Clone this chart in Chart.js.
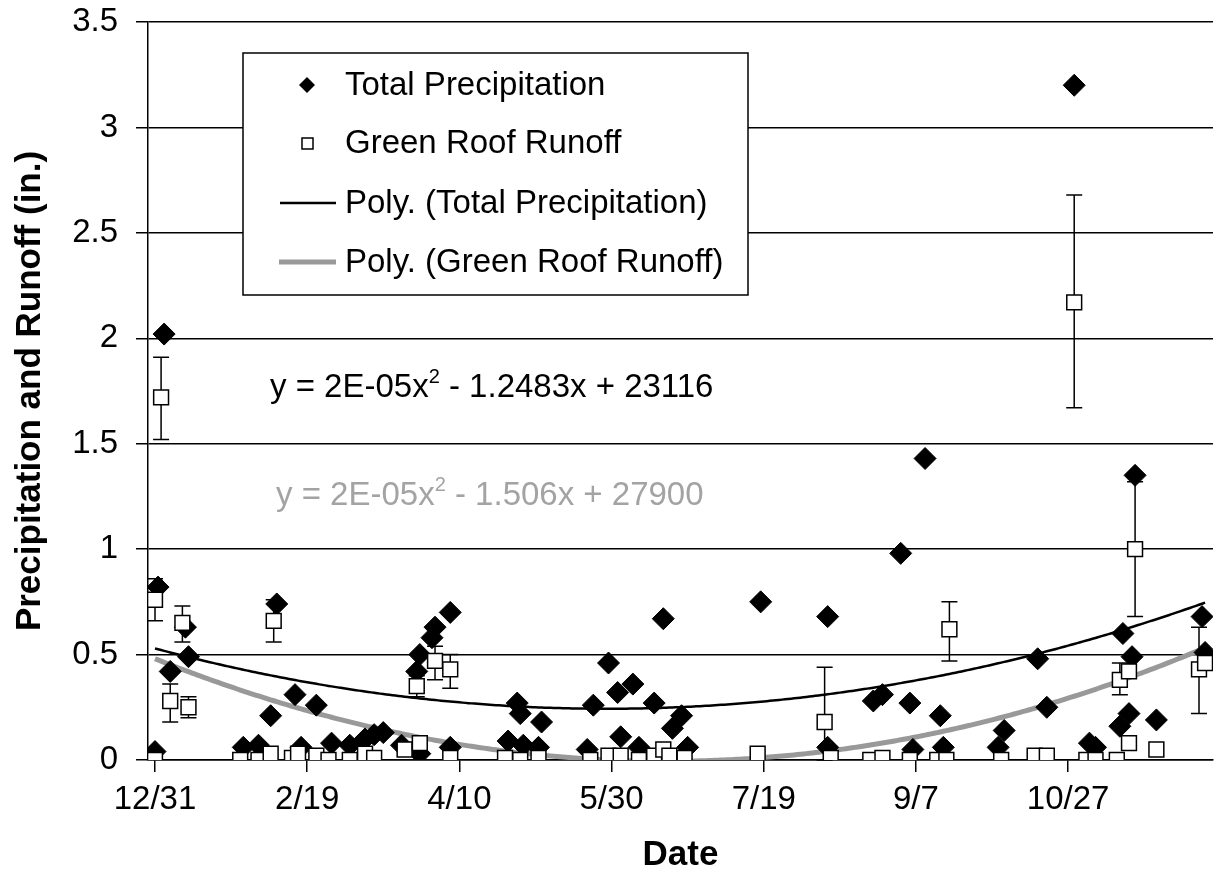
<!DOCTYPE html>
<html>
<head>
<meta charset="utf-8">
<script src="https://cdn.jsdelivr.net/npm/chart.js@4.4.1/dist/chart.umd.min.js"></script>
<style>
html, body { margin: 0; padding: 0; background: #fff; overflow: hidden; }
#wrap { width: 1225px; height: 877px; }
canvas { display: block; }
</style>
</head>
<body>
<div id="wrap"><canvas id="myChart"></canvas></div>
<script>
// days counted from 12/31
const dayTicks = [0, 50, 100, 150, 200, 250, 300];
const valueTicks = [0, 0.5, 1, 1.5, 2, 2.5, 3, 3.5];

const precipDays = [1, 0, 3, 5, 10, 11, 29, 34, 38, 40, 46, 48, 53, 58, 64, 69, 72, 75, 81, 86, 87, 87, 91, 92, 97, 97,
	116, 119, 120, 121, 126, 127, 142, 144, 149, 152, 153, 157, 159, 164, 167, 170, 173, 175, 199, 221, 221,
	236, 239, 245, 248, 249, 253, 258, 259, 277, 279, 290, 293, 302, 307, 309, 317, 318, 320, 321, 322, 329, 344, 345];
const precipValues = [0.82, 0.04, 2.02, 0.42, 0.63, 0.49, 0.06, 0.07, 0.21, 0.74, 0.31, 0.06, 0.26, 0.08, 0.07, 0.10, 0.12, 0.13, 0.07, 0.42, 0.50, 0.03, 0.58, 0.63, 0.70, 0.06,
	0.09, 0.27, 0.22, 0.07, 0.06, 0.18, 0.05, 0.26, 0.46, 0.32, 0.11, 0.36, 0.06, 0.27, 0.67, 0.15, 0.21, 0.06, 0.75, 0.68, 0.06,
	0.28, 0.31, 0.98, 0.27, 0.05, 1.43, 0.21, 0.06, 0.06, 0.14, 0.48, 0.25, 3.20, 0.08, 0.06, 0.16, 0.60, 0.22, 0.49, 1.35, 0.19, 0.68, 0.51];

const runoffDays = [0, 0, 2, 5, 9, 11, 28, 34, 38, 39, 45, 47, 53, 57, 64, 69, 72, 82, 86, 87, 92, 97, 97, 115, 120, 126,
	143, 149, 153, 159, 164, 167, 169, 174, 198, 220, 222, 235, 239, 248, 257, 260, 261, 278, 289, 293, 302,
	306, 309, 316, 317, 320, 320, 322, 329, 343, 345];
const runoffValues = [0.76, 0, 1.72, 0.28, 0.65, 0.25, 0, 0, 0.03, 0.66, 0.01, 0.03, 0.02, 0, 0, 0.03, 0.01, 0.05, 0.35, 0.08, 0.47, 0.43, 0.01, 0.01, 0, 0.01,
	0, 0.02, 0.02, 0, 0.02, 0.05, 0.02, 0.01, 0.03, 0.18, 0.01, 0, 0.01, 0, 0, 0, 0.62, 0, 0.02, 0.02, 2.17,
	0, 0, 0, 0.38, 0.42, 0.08, 1.00, 0.05, 0.43, 0.46];
const runoffLow = [0.66, null, 1.52, 0.18, 0.56, 0.20, null, null, null, 0.56, null, null, null, null, null, null, null, null, 0.30, null, 0.38, 0.34, null, null, null, null,
	null, null, null, null, null, null, null, null, null, 0, null, null, null, null, null, null, 0.47, null, null, null, 1.67,
	null, null, null, 0.31, null, null, 0.68, null, 0.22, null];
const runoffHigh = [0.86, null, 1.91, 0.36, 0.73, 0.30, null, null, null, 0.76, null, null, null, null, null, null, null, null, 0.40, null, 0.54, 0.50, null, null, null, null,
	null, null, null, null, null, null, null, null, null, 0.44, null, null, null, null, null, null, 0.75, null, null, null, 2.68,
	null, null, null, 0.46, null, null, 1.32, null, 0.63, null];

const precipEquation = 'y = 2E-05x|2| - 1.2483x + 23116';
const runoffEquation = 'y = 2E-05x|2| - 1.506x + 27900';

const fontName = '"Liberation Sans", Arial, sans-serif';

function toPoints(xs, ys) {
	return xs.map((x, i) => ({ x: x, y: ys[i] }));
}

// second order least squares fit, like the spreadsheet "Poly." trendline
function polyTrend(xs, ys) {
	let n = 0, sx = 0, sx2 = 0, sx3 = 0, sx4 = 0, sy = 0, sxy = 0, sx2y = 0;
	xs.forEach((x, i) => {
		const y = ys[i];
		n++; sx += x; sx2 += x * x; sx3 += x * x * x; sx4 += x * x * x * x;
		sy += y; sxy += x * y; sx2y += x * x * y;
	});
	const det3 = (m) => m[0][0] * (m[1][1] * m[2][2] - m[1][2] * m[2][1])
		- m[0][1] * (m[1][0] * m[2][2] - m[1][2] * m[2][0])
		+ m[0][2] * (m[1][0] * m[2][1] - m[1][1] * m[2][0]);
	const A = [[n, sx, sx2], [sx, sx2, sx3], [sx2, sx3, sx4]];
	const B = [sy, sxy, sx2y];
	const D = det3(A);
	const coef = [0, 1, 2].map(k => det3(A.map((row, r) => row.map((v, c) => c === k ? B[r] : v))) / D);
	const lo = Math.min(...xs), hi = Math.max(...xs);
	const pts = [];
	for (let x = lo; x <= hi; x += 1) {
		pts.push({ x: x, y: coef[0] + coef[1] * x + coef[2] * x * x });
	}
	return pts;
}

function dayLabel(d) {
	const dt = new Date(2006, 11, 31 + d);
	return (dt.getMonth() + 1) + '/' + dt.getDate();
}

const errorBars = {
	id: 'errorBars',
	beforeDatasetsDraw(chart) {
		const c = chart.ctx, xs = chart.scales.x, ys = chart.scales.y;
		c.save();
		c.strokeStyle = '#000';
		c.lineWidth = 1.5;
		runoffDays.forEach((d, i) => {
			if (runoffLow[i] === null) return;
			const px = xs.getPixelForValue(d);
			const p1 = ys.getPixelForValue(runoffLow[i]);
			const p2 = ys.getPixelForValue(runoffHigh[i]);
			c.beginPath();
			c.moveTo(px, p1); c.lineTo(px, p2);
			c.moveTo(px - 8, p1); c.lineTo(px + 8, p1);
			c.moveTo(px - 8, p2); c.lineTo(px + 8, p2);
			c.stroke();
		});
		c.restore();
	}
};

function drawEquation(c, text, x, y, color) {
	const parts = text.split('|');
	c.fillStyle = color;
	c.textBaseline = 'alphabetic';
	c.textAlign = 'left';
	c.font = '33px ' + fontName;
	c.fillText(parts[0], x, y);
	let w = c.measureText(parts[0]).width;
	c.font = '20px ' + fontName;
	c.fillText(parts[1], x + w, y - 14);
	w += c.measureText(parts[1]).width;
	c.font = '33px ' + fontName;
	c.fillText(parts[2], x + w, y);
}

const overlay = {
	id: 'overlay',
	afterDraw(chart) {
		const c = chart.ctx;
		c.save();
		// equations
		drawEquation(c, precipEquation, 270, 397, '#000');
		drawEquation(c, runoffEquation, 276, 505, '#a3a3a3');
		// legend box
		const bx = 243, by = 53, bw = 505, bh = 242;
		c.fillStyle = '#fff';
		c.fillRect(bx, by, bw, bh);
		c.strokeStyle = '#000';
		c.lineWidth = 1.5;
		c.strokeRect(bx, by, bw, bh);
		const rows = [85, 143, 203, 262];
		const labels = ['Total Precipitation', 'Green Roof Runoff', 'Poly. (Total Precipitation)', 'Poly. (Green Roof Runoff)'];
		c.font = '33px ' + fontName;
		c.textBaseline = 'middle';
		c.fillStyle = '#000';
		labels.forEach((t, i) => c.fillText(t, 345, rows[i] + 1));
		// diamond
		c.beginPath();
		c.moveTo(307, rows[0] - 8); c.lineTo(315, rows[0]); c.lineTo(307, rows[0] + 8); c.lineTo(299, rows[0]);
		c.closePath();
		c.fill();
		// square
		c.lineWidth = 1.5;
		c.fillStyle = '#fff';
		c.fillRect(302, rows[1] - 5, 11, 11);
		c.strokeRect(302, rows[1] - 5, 11, 11);
		// lines
		c.beginPath();
		c.moveTo(280, rows[2]); c.lineTo(336, rows[2]);
		c.lineWidth = 2.5; c.strokeStyle = '#000';
		c.stroke();
		c.beginPath();
		c.moveTo(279, rows[3]); c.lineTo(336, rows[3]);
		c.lineWidth = 5; c.strokeStyle = '#999';
		c.stroke();
		c.restore();
	}
};

const datasets = [
	{
		label: 'Green Roof Runoff',
		data: toPoints(runoffDays, runoffValues),
		pointStyle: 'rect',
		pointRadius: 10.5,
		backgroundColor: '#fff',
		borderColor: '#000',
		borderWidth: 1.5
	},
	{
		label: 'Total Precipitation',
		data: toPoints(precipDays, precipValues),
		pointStyle: 'rectRot',
		pointRadius: 11,
		backgroundColor: '#000',
		borderColor: '#000',
		borderWidth: 1
	},
	{
		label: 'Poly. (Total Precipitation)',
		data: polyTrend(precipDays, precipValues),
		showLine: true,
		pointRadius: 0,
		borderColor: '#000',
		borderWidth: 2.5,
		tension: 0
	},
	{
		label: 'Poly. (Green Roof Runoff)',
		data: polyTrend(runoffDays, runoffValues),
		showLine: true,
		pointRadius: 0,
		borderColor: '#999',
		borderWidth: 5,
		tension: 0
	}
];

const options = {
	responsive: true,
	maintainAspectRatio: false,
	animation: false,
	layout: { padding: { top: 22, right: 1, left: 0, bottom: 0 } },
	plugins: {
		legend: { display: false },
		tooltip: { enabled: false }
	},
	scales: {
		x: {
			type: 'linear',
			min: -2.3,
			max: 347.6,
			afterBuildTicks: s => { s.ticks = dayTicks.map(v => ({ value: v })); },
			afterFit: s => { s.height = 117; s.paddingLeft = 0; s.paddingRight = 0; },
			ticks: {
				color: '#000',
				font: { family: fontName, size: 33 },
				padding: 8,
				maxRotation: 0,
				autoSkip: false,
				callback: v => dayLabel(v)
			},
			grid: { drawOnChartArea: false, color: '#000', tickLength: 12, lineWidth: 1.5 },
			border: { color: '#000', width: 1.5 },
			title: {
				display: true,
				text: 'Date',
				color: '#000',
				font: { family: fontName, size: 35, weight: 'bold' },
				padding: { top: 0, bottom: 1 }
			}
		},
		y: {
			min: 0,
			max: 3.5,
			afterBuildTicks: s => { s.ticks = valueTicks.map(v => ({ value: v })); },
			afterFit: s => { s.width = 148; s.paddingTop = 0; s.paddingBottom = 0; },
			ticks: {
				color: '#000',
				font: { family: fontName, size: 33 },
				padding: 18,
				callback: v => String(v)
			},
			grid: { color: '#000', tickLength: 12, lineWidth: 1.5 },
			border: { color: '#000', width: 1.5 },
			title: {
				display: true,
				text: 'Precipitation and Runoff (in.)',
				color: '#000',
				font: { family: fontName, size: 35, weight: 'bold' },
				padding: { top: 9, bottom: 0 }
			}
		}
	}
};

const ctx = document.getElementById('myChart');
const myChart = new Chart(ctx, {
	type: 'scatter',
	data: { datasets },
	options,
	plugins: [errorBars, overlay]
});
</script>
</body>
</html>
